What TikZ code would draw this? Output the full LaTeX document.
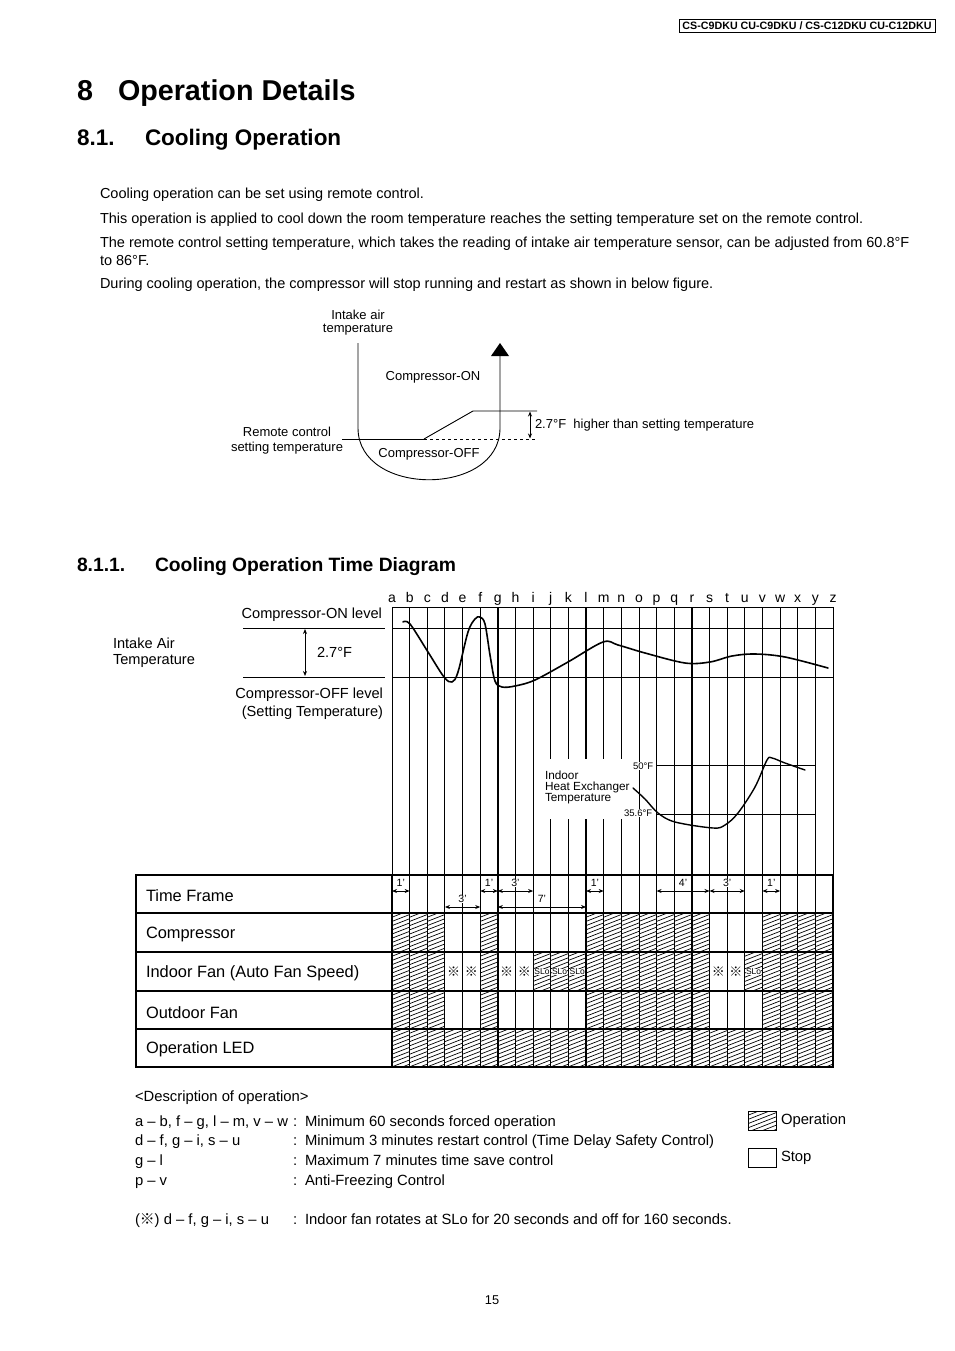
\documentclass[tikz,border=0pt]{standalone}
\usepackage{fontspec}
\setmainfont{Liberation Sans}
\newfontfamily\cjk{Noto Sans CJK JP}
\usetikzlibrary{arrows.meta}
\newcommand{\fsz}[1]{\fontsize{#1}{#1}\selectfont}
\newcommand{\gx}[1]{392+(#1)*17.64}
\newcommand{\hcell}[4]{%
  \begin{scope}
    \clip ({#1},{#3}) rectangle ({#2},{#4});
    \foreach \k in {0,...,13}{\draw[hatchline] ({#1},{#3+\k*4.2}) -- ++(40,-15.6);}
  \end{scope}}
\begin{document}
\begin{tikzpicture}[x=1pt,y=-1pt,
  every node/.style={inner sep=0pt, outer sep=0pt},
  gridline/.style={line width=0.9pt},
  thickgrid/.style={line width=1.4pt},
  tabline/.style={line width=1.1pt},
  hatchline/.style={line width=0.7pt},
  dimarrow/.style={{Stealth[length=5pt,width=4pt]}-{Stealth[length=5pt,width=4pt]}, line width=0.8pt},
  curve/.style={line width=1.6pt, line join=round, line cap=round},
  body/.style={anchor=base west, font=\fsz{14.5}},
  fig/.style={font=\fsz{13}},
  lab/.style={font=\fsz{14.6}},
  rowlab/.style={anchor=west, font=\fsz{16.4}},
  desc/.style={anchor=base west, font=\fsz{14.8}},
  tf/.style={font=\fsz{10.5}, fill=white, inner sep=0.6pt},
  ref/.style={font=\cjk\fsz{13}},
  slo/.style={font=\fsz{8.5}, fill=white, inner sep=0.3pt},
]
\useasboundingbox (0,0) rectangle (954,1351);
\fill[white] (0,0) rectangle (954,1351);

% header
\node[draw, line width=0.8pt, minimum width=256pt, minimum height=13pt, font=\bfseries\fsz{10.7}] (hdr) at (807,25.5) {CS-C9DKU CU-C9DKU / CS-C12DKU CU-C12DKU};

% titles
\node[anchor=base west, font=\bfseries\fsz{28.7}] (t8) at (77,101) {8};
\node[anchor=base west, font=\bfseries\fsz{28.7}] (t8b) at (118,101) {Operation Details};
\node[anchor=base west, font=\bfseries\fsz{22.5}] (t81) at (77,146) {8.1.};
\node[anchor=base west, font=\bfseries\fsz{22.5}] (t81b) at (145,146) {Cooling Operation};
\node[anchor=base west, font=\bfseries\fsz{19.3}] (t811) at (77,571) {8.1.1.};
\node[anchor=base west, font=\bfseries\fsz{19.3}] (t811b) at (155,571) {Cooling Operation Time Diagram};

% body text
\node[body] (b1) at (100,199) {Cooling operation can be set using remote control.};
\node[body] (b2) at (100,223) {This operation is applied to cool down the room temperature reaches the setting temperature set on the remote control.};
\node[body] (b3) at (100,247) {The remote control setting temperature, which takes the reading of intake air temperature sensor, can be adjusted from 60.8°F};
\node[body] (b4) at (100,265) {to 86°F.};
\node[body] (b5) at (100,288) {During cooling operation, the compressor will stop running and restart as shown in below figure.};

% upper figure
\node[fig] (ia1) at (358,315) {Intake air};
\node[fig] (ia2) at (358,330) {temperature};
\node[fig] (con) at (433,377) {Compressor-ON};
\node[fig] (coff) at (429,454) {Compressor-OFF};
\node[fig] (rc1) at (287,432) {Remote control};
\node[fig] (rc2) at (287,448) {setting temperature};
\node[fig, anchor=west] (hi) at (535,425) {2.7°F\ \ higher than setting temperature};
\draw[line width=0.9pt] (358,343) -- (358,428) .. controls (358,497) and (500,497) .. (500,428) -- (500,355);
\fill (491,356) -- (509,356) -- (500,343) -- cycle;
\draw[line width=0.9pt] (342,439) -- (424,439);
\draw[line width=0.9pt, dashed] (424,439) -- (537,439);
\draw[line width=0.9pt] (424,439) -- (473,411) -- (537,411);
\draw[dimarrow] (530,411.5) -- (530,438.5);

% ----- time diagram -----
% hatching
\foreach \i in {0,1,2,5,11,12,13,14,15,16,17,21,22,23,24}{
  \hcell{\gx{\i}}{\gx{\i+1}}{913}{952}
  \hcell{\gx{\i}}{\gx{\i+1}}{991}{1029}}
\foreach \i in {0,1,2,5,8,9,10,11,12,13,14,15,16,17,20,21,22,23,24}{
  \hcell{\gx{\i}}{\gx{\i+1}}{952}{991}}
\foreach \i in {0,...,24}{
  \hcell{\gx{\i}}{\gx{\i+1}}{1029}{1067}}

% grid verticals
\foreach \i in {0,...,25}{\draw[gridline] ({\gx{\i}},607) -- ({\gx{\i}},1067);}
\foreach \i in {6,11,17,21}{\draw[thickgrid] ({\gx{\i}},607) -- ({\gx{\i}},1067);}
% grid horizontals
\draw[gridline] ({\gx{0}},607) -- ({\gx{25}},607);
\draw[gridline] ({\gx{0}},628) -- ({\gx{25}},628);
\draw[gridline] ({\gx{0}},677) -- ({\gx{25}},677);

% letters
\foreach \l [count=\n from 0] in {a,b,c,d,e,f,g,h,i,j,k,l,m,n,o,p,q,r,s,t,u,v,w,x,y,z}{
  \node[font=\fsz{14}, anchor=base] (lt\l) at ({\gx{\n}},602) {\l};}

% left labels
\draw[gridline] (243,628) -- (385,628);
\draw[gridline] (243,677) -- (385,677);
\draw[dimarrow] (305,629) -- (305,676);
\node[lab, anchor=east] (onl) at (382,615) {Compressor-ON level};
\node[lab, anchor=west] (d27) at (317,652) {2.7°F};
\node[lab, anchor=east] (offl) at (383,695) {Compressor-OFF level};
\node[lab, anchor=east] (setl) at (383,713) {(Setting Temperature)};
\node[lab, anchor=west] (iat1) at (113,643) {Intake Air};
\node[lab, anchor=west] (iat2) at (113,661) {Temperature};

% intake air curve
\draw[curve] plot[smooth, tension=0.55] coordinates {(403,622) (410,624) (428,652) (444,677) (452,682) (458,672) (468,632) (475,619) (480,617) (485,624) (490,655) (495,681) (502,687) (515,686) (535,680) (568,662) (603,642) (618,645) (645,653) (685,663) (710,662) (732,656) (755,654) (785,657) (828,668)};

% heat exchanger
\fill[white] (541,759) rectangle (633,819);
\draw[gridline] ({\gx{15}},765) -- ({\gx{24}},765);
\draw[gridline] ({\gx{15}},814) -- ({\gx{24}},814);
\node[font=\fsz{9.5}, fill=white, inner sep=0.8pt, anchor=east] (t50) at (654,766) {50°F};
\node[font=\fsz{9.5}, fill=white, inner sep=0.8pt, anchor=east] (t356) at (653,813) {35.6°F};
\node[font=\fsz{11.8}, anchor=west] (hx1) at (545,775) {Indoor};
\node[font=\fsz{11.8}, anchor=west] (hx2) at (545,787) {Heat Exchanger};
\node[font=\fsz{11.8}, anchor=west] (hx3) at (545,799) {Temperature};
\draw[curve, line width=1.4pt] plot[smooth, tension=0.55] coordinates {(633,788) (645,799) (658,813) (675,822) (713,828) (725,825) (738,813) (755,787) (767,760) (772,758) (785,763) (805,770)};

% table
\draw[tabline] (136,875) rectangle (833,1067);
\foreach \yy in {913,952,991,1029}{\draw[tabline] (136,\yy) -- (833,\yy);}
\draw[tabline] (392,875) -- (392,1067);
\node[rowlab] (rtf) at (146,896) {Time Frame};
\node[rowlab] (rcp) at (146,934) {Compressor};
\node[rowlab] (rif) at (146,973) {Indoor Fan (Auto Fan Speed)};
\node[rowlab] (rof) at (146,1013) {Outdoor Fan};
\node[rowlab] (rled) at (146,1049) {Operation LED};

% time frame arrows
\draw[dimarrow] ({\gx{0}},891) -- ({\gx{1}},891);
\node[tf] (tfa) at ({(\gx{0}+\gx{1})/2},883) {1’};
\draw[dimarrow] ({\gx{3}},907) -- ({\gx{5}},907);
\node[tf] (tfb) at ({(\gx{3}+\gx{5})/2},899) {3’};
\draw[dimarrow] ({\gx{5}},891) -- ({\gx{6}},891);
\node[tf] (tfc) at ({(\gx{5}+\gx{6})/2},883) {1’};
\draw[dimarrow] ({\gx{6}},891) -- ({\gx{8}},891);
\node[tf] (tfd) at ({(\gx{6}+\gx{8})/2},883) {3’};
\draw[dimarrow] ({\gx{6}},907) -- ({\gx{11}},907);
\node[tf] (tfe) at ({(\gx{6}+\gx{11})/2},899) {7’};
\draw[dimarrow] ({\gx{11}},891) -- ({\gx{12}},891);
\node[tf] (tff) at ({(\gx{11}+\gx{12})/2},883) {1’};
\draw[dimarrow] ({\gx{15}},891) -- ({\gx{18}},891);
\node[tf] (tfg) at ({(\gx{15}+\gx{18})/2},883) {4’};
\draw[dimarrow] ({\gx{18}},891) -- ({\gx{20}},891);
\node[tf] (tfh) at ({(\gx{18}+\gx{20})/2},883) {3’};
\draw[dimarrow] ({\gx{21}},891) -- ({\gx{22}},891);
\node[tf] (tfi) at ({(\gx{21}+\gx{22})/2},883) {1’};

% reference marks and SLo
\foreach \i in {3,4,6,7,18,19}{\node[ref] (rm\i) at ({\gx{\i}+8.82},972) {※};}
\foreach \i in {8,9,10,20}{\node[slo] (sl\i) at ({\gx{\i}+8.82},972) {SLo};}

% description
\node[desc] (dh) at (135,1101) {<Description of operation>};
\node[desc] (d1a) at (135,1126) {a – b, f – g, l – m, v – w};
\node[desc] (d2a) at (135,1145) {d – f, g – i, s – u};
\node[desc] (d3a) at (135,1165) {g – l};
\node[desc] (d4a) at (135,1185) {p – v};
\node[desc] (d5a) at (135,1224) {({\cjk ※}) d – f, g – i, s – u};
\node[desc] (dc1) at (293,1126) {:};
\node[desc] (dt1) at (305,1126) {Minimum 60 seconds forced operation};
\node[desc] (dc2) at (293,1145) {:};
\node[desc] (dt2) at (305,1145) {Minimum 3 minutes restart control (Time Delay Safety Control)};
\node[desc] (dc3) at (293,1165) {:};
\node[desc] (dt3) at (305,1165) {Maximum 7 minutes time save control};
\node[desc] (dc4) at (293,1185) {:};
\node[desc] (dt4) at (305,1185) {Anti-Freezing Control};
\node[desc] (dc5) at (293,1224) {:};
\node[desc] (dt5) at (305,1224) {Indoor fan rotates at SLo for 20 seconds and off for 160 seconds.};

% legend
\hcell{748}{776}{1111}{1130}
\draw[line width=1pt] (748,1111) rectangle (776,1130);
\node[desc, anchor=west] (lop) at (781,1121) {Operation};
\draw[line width=1pt] (748,1148) rectangle (776,1167);
\node[desc, anchor=west] (lst) at (781,1158) {Stop};

% page number
\node[font=\fsz{12.8}] (pg) at (492,1300) {15};
\end{tikzpicture}
\end{document}
